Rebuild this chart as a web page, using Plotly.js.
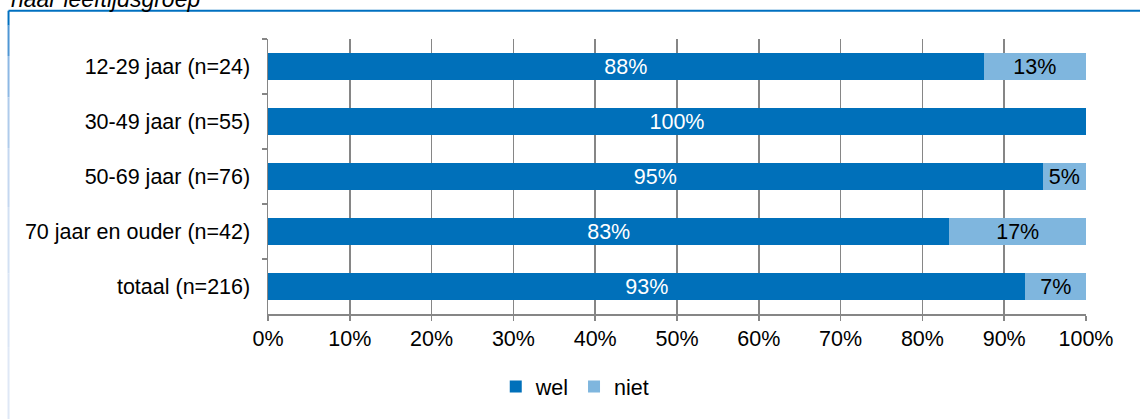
<!DOCTYPE html>
<html>
<head>
<meta charset="utf-8">
<script src="https://cdn.plot.ly/plotly-3.0.1.min.js"></script>
<style>html,body{margin:0;padding:0;background:#fff;}#chart{width:1140px;height:419px;}</style>
</head>
<body>
<div id="chart"></div>
<script>
const categories = ['12-29 jaar (n=24)', '30-49 jaar (n=55)', '50-69 jaar (n=76)', '70 jaar en ouder (n=42)', 'totaal (n=216)'];
const welValues = [0.875, 1.0, 0.947, 0.833, 0.926];
const nietValues = [0.125, 0.0, 0.053, 0.167, 0.074];
const welLabels = ['88%', '100%', '95%', '83%', '93%'];
const nietLabels = ['13%', '', '5%', '17%', '7%'];
const seriesNames = ['wel', 'niet'];
const titleText = 'naar leeftijdsgroep';

const FONT = 'Liberation Sans, Arial, sans-serif';
const FS = 21.5;
const GRID = '#868686';

const traces = [
  {
    type: 'bar', orientation: 'h', name: seriesNames[0],
    y: categories, x: welValues, text: welLabels,
    textposition: 'inside', insidetextanchor: 'middle', constraintext: 'none',
    textfont: {family: FONT, size: FS, color: '#ffffff'},
    marker: {color: '#0070BA'}, hoverinfo: 'x+y'
  },
  {
    type: 'bar', orientation: 'h', name: seriesNames[1],
    y: categories, x: nietValues, text: nietLabels,
    textposition: 'inside', insidetextanchor: 'middle', constraintext: 'none',
    textfont: {family: FONT, size: FS, color: '#000000'},
    marker: {color: '#7FB6DE'}, hoverinfo: 'x+y'
  }
];

// frame: strong blue top edge, left edge fading to pale
const frameShapes = [
  {type: 'line', xref: 'paper', yref: 'paper', x0: -0.3172, x1: 1.2, y0: 1.1029, y1: 1.1029, line: {color: '#0070C0', width: 2}}
];
const leftColors = ['#0070C0', '#4F96D4', '#8DB8E4', '#AFCBEB', '#C4D7F0', '#D2E0F3', '#DAE5F5', '#DFE8F6'];
const segTop = 10.5, segBottom = 430, nSeg = leftColors.length;
function pyToPaper(py) { return 1 + (39 - py) / 277; }
for (let i = 0; i < nSeg; i++) {
  const a = segTop + (segBottom - segTop) * Math.pow(i / nSeg, 1.6);
  const b = segTop + (segBottom - segTop) * Math.pow((i + 1) / nSeg, 1.6);
  frameShapes.push({type: 'line', xref: 'paper', yref: 'paper', x0: -0.3172, x1: -0.3172,
    y0: pyToPaper(a), y1: pyToPaper(b), line: {color: leftColors[i], width: 2}});
}

const layout = {
  width: 1140, height: 419,
  margin: {l: 268, r: 54, t: 39, b: 103},
  paper_bgcolor: '#ffffff', plot_bgcolor: '#ffffff',
  font: {family: FONT, size: FS, color: '#000000'},
  barmode: 'stack', bargap: 0.51,
  showlegend: true,
  legend: {orientation: 'h', x: 0.375, xanchor: 'center', y: -0.264, yanchor: 'middle',
           font: {family: FONT, size: FS, color: '#000'}, traceorder: 'normal', itemwidth: 30},
  xaxis: {
    range: [0, 1], dtick: 0.1, tick0: 0, tickformat: '.0%',
    showgrid: true, gridcolor: GRID, gridwidth: 1.5, zeroline: false,
    showline: true, linecolor: GRID, linewidth: 1.5,
    ticks: 'outside', ticklen: 5, tickcolor: GRID, tickwidth: 1.5,
    tickfont: {family: FONT, size: FS, color: '#000'}, fixedrange: true
  },
  yaxis: {
    type: 'category', autorange: 'reversed',
    showgrid: false, zeroline: false,
    showline: true, linecolor: GRID, linewidth: 1.5,
    ticks: 'outside', tickson: 'boundaries', ticklen: 5, tickcolor: GRID, tickwidth: 1.5,
    ticklabelstandoff: 12,
    tickfont: {family: FONT, size: FS, color: '#000'}, fixedrange: true
  },
  shapes: frameShapes,
  annotations: [{
    text: titleText, xref: 'paper', yref: 'paper', x: -0.3172, xanchor: 'left',
    y: 1.147, yanchor: 'middle', showarrow: false,
    font: {family: FONT, size: 23, color: '#000', style: 'italic'}
  }]
};

Plotly.newPlot('chart', traces, layout, {displayModeBar: false, staticPlot: true});
</script>
</body>
</html>
